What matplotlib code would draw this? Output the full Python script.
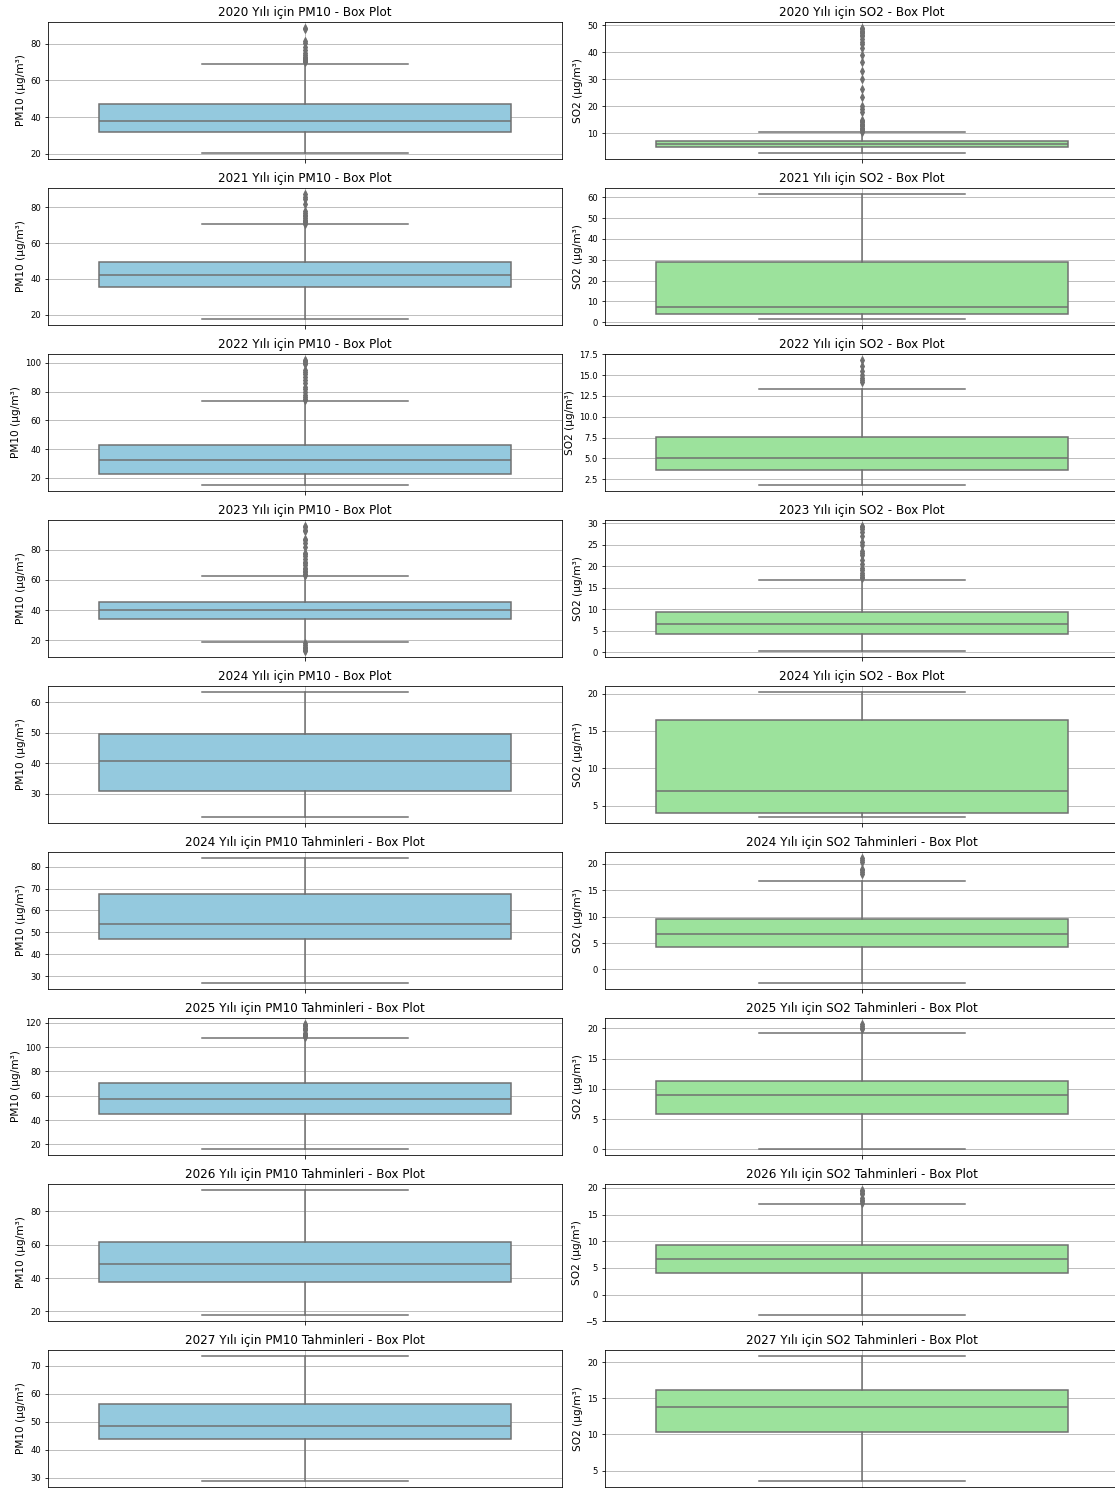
import colorsys
import matplotlib
matplotlib.use('Agg')
import matplotlib.pyplot as plt
import matplotlib.colors as mcolors
from matplotlib.ticker import MaxNLocator

# panel titles (left column PM10, right column SO2)
pm10_titles = ['2020 Yılı için PM10 - Box Plot', '2021 Yılı için PM10 - Box Plot',
               '2022 Yılı için PM10 - Box Plot', '2023 Yılı için PM10 - Box Plot',
               '2024 Yılı için PM10 - Box Plot', '2024 Yılı için PM10 Tahminleri - Box Plot',
               '2025 Yılı için PM10 Tahminleri - Box Plot', '2026 Yılı için PM10 Tahminleri - Box Plot',
               '2027 Yılı için PM10 Tahminleri - Box Plot']
so2_titles = ['2020 Yılı için SO2 - Box Plot', '2021 Yılı için SO2 - Box Plot',
              '2022 Yılı için SO2 - Box Plot', '2023 Yılı için SO2 - Box Plot',
              '2024 Yılı için SO2 - Box Plot', '2024 Yılı için SO2 Tahminleri - Box Plot',
              '2025 Yılı için SO2 Tahminleri - Box Plot', '2026 Yılı için SO2 Tahminleri - Box Plot',
              '2027 Yılı için SO2 Tahminleri - Box Plot']

# box statistics
pm10_whislo = [20.5, 17.5, 15.0, 19.1, 22.3, 26.8, 16.2, 17.8, 28.8]
pm10_q1 = [32.0, 35.5, 22.8, 34.3, 31.0, 46.9, 45.4, 37.8, 43.8]
pm10_med = [38.0, 42.0, 32.5, 39.8, 40.8, 54.0, 57.5, 48.2, 48.45]
pm10_q3 = [47.0, 49.5, 42.8, 45.7, 49.6, 67.4, 70.7, 61.8, 56.5]
pm10_whishi = [69.0, 70.5, 73.2, 62.6, 63.3, 84.0, 107.6, 92.8, 73.5]
pm10_fliers = [
    [70, 70.5, 71, 71.5, 72, 73, 74, 75, 76.5, 78, 80.5, 81.5, 88, 88.5],
    [71, 72, 72.5, 73, 74, 75, 76, 77, 78, 82, 84.5, 86, 87.5],
    [74, 75, 76, 78, 80, 82, 83, 86, 88, 90, 92, 94, 95, 99, 100, 101, 101.5, 102],
    [63, 63.5, 64, 65, 66, 67, 68, 70, 71, 72, 74, 76, 77, 78, 82, 84, 86, 87, 92, 93, 95, 95.5,
     18, 17, 16, 15, 14, 13.5, 13],
    [],
    [],
    [108.5, 109.5, 110, 111, 112, 114, 115, 116, 117, 118, 119],
    [],
    [],
]

so2_whislo = [2.6, 1.5, 1.8, 0.3, 3.5, -2.57, 0.05, -3.85, 3.56]
so2_q1 = [4.7, 4.0, 3.6, 4.24, 4.06, 4.3, 5.92, 4.0, 10.3]
so2_med = [5.8, 7.5, 5.0, 6.6, 6.93, 6.63, 8.9, 6.75, 13.85]
so2_q3 = [7.0, 29.0, 7.6, 9.4, 16.5, 9.6, 11.25, 9.2, 16.2]
so2_whishi = [10.3, 61.5, 13.3, 16.8, 20.2, 16.7, 19.3, 16.9, 20.83]
so2_fliers = [
    [10.5, 11, 11.5, 12, 12.5, 13, 13.5, 14, 14.5, 15, 18, 19, 20, 23.5, 26.5, 30, 33, 36.5,
     39, 41.5, 43, 44, 45, 46, 46.5, 47, 47.5, 48, 48.5, 49],
    [],
    [14.2, 14.4, 14.6, 15.0, 15.5, 16.1, 16.8],
    [17.2, 17.5, 18, 18.5, 19, 19.5, 20.5, 21.5, 22.5, 23, 23.5, 25, 25.5, 27, 28, 28.5, 29, 29.3],
    [],
    [18.0, 18.4, 18.8, 19.0, 20.4, 20.8, 21.1],
    [19.8, 20.1, 20.4, 20.7],
    [17.2, 17.5, 17.8, 18.1, 18.8, 19.1, 19.4, 19.6],
    [],
]


def desaturate(color, prop):
    """ seaborn-like desaturation of a named color """
    r, g, b = mcolors.to_rgb(color)
    h, l, s = colorsys.rgb_to_hls(r, g, b)
    return colorsys.hls_to_rgb(h, l, s * prop)


def draw_box(ax, title, ylabel, color, lo, q1, med, q3, hi, fliers):
    stats = [dict(whislo=lo, q1=q1, med=med, q3=q3, whishi=hi, fliers=fliers)]
    gray = '#6f6f6f'
    ax.bxp(stats, positions=[0], widths=0.8, patch_artist=True, showfliers=True,
           boxprops=dict(facecolor=desaturate(color, 0.75), edgecolor=gray, linewidth=1.5),
           whiskerprops=dict(color=gray, linewidth=1.5),
           capprops=dict(color=gray, linewidth=1.5),
           medianprops=dict(color=gray, linewidth=1.5),
           flierprops=dict(marker='d', markerfacecolor=gray, markeredgecolor=gray,
                           markersize=5, linestyle='none'))
    ax.set_xlim(-0.5, 0.5)
    ax.set_xticks([0])
    ax.set_xticklabels([''])
    ax.yaxis.set_major_locator(MaxNLocator(nbins=7, steps=[1, 2, 2.5, 5, 10]))
    ax.tick_params(labelsize=8.5)
    ax.set_title(title, fontsize=12)
    ax.set_ylabel(ylabel, fontsize=10.5)
    ax.grid(True)


W, H = 1115, 1488
fig = plt.figure(figsize=(W / 72, H / 72), dpi=72)

ax_w, ax_h = 514, 137.5
for i in range(9):
    top = 21.8 + 166 * i
    bottom = 1 - (top + ax_h) / H
    ax1 = fig.add_axes([48 / W, bottom, ax_w / W, ax_h / H])
    draw_box(ax1, pm10_titles[i], 'PM10 (µg/m³)', 'skyblue',
             pm10_whislo[i], pm10_q1[i], pm10_med[i], pm10_q3[i], pm10_whishi[i], pm10_fliers[i])
    ax2 = fig.add_axes([605 / W, bottom, ax_w / W, ax_h / H])
    draw_box(ax2, so2_titles[i], 'SO2 (µg/m³)', 'lightgreen',
             so2_whislo[i], so2_q1[i], so2_med[i], so2_q3[i], so2_whishi[i], so2_fliers[i])

fig.savefig('out.png', dpi=72)
